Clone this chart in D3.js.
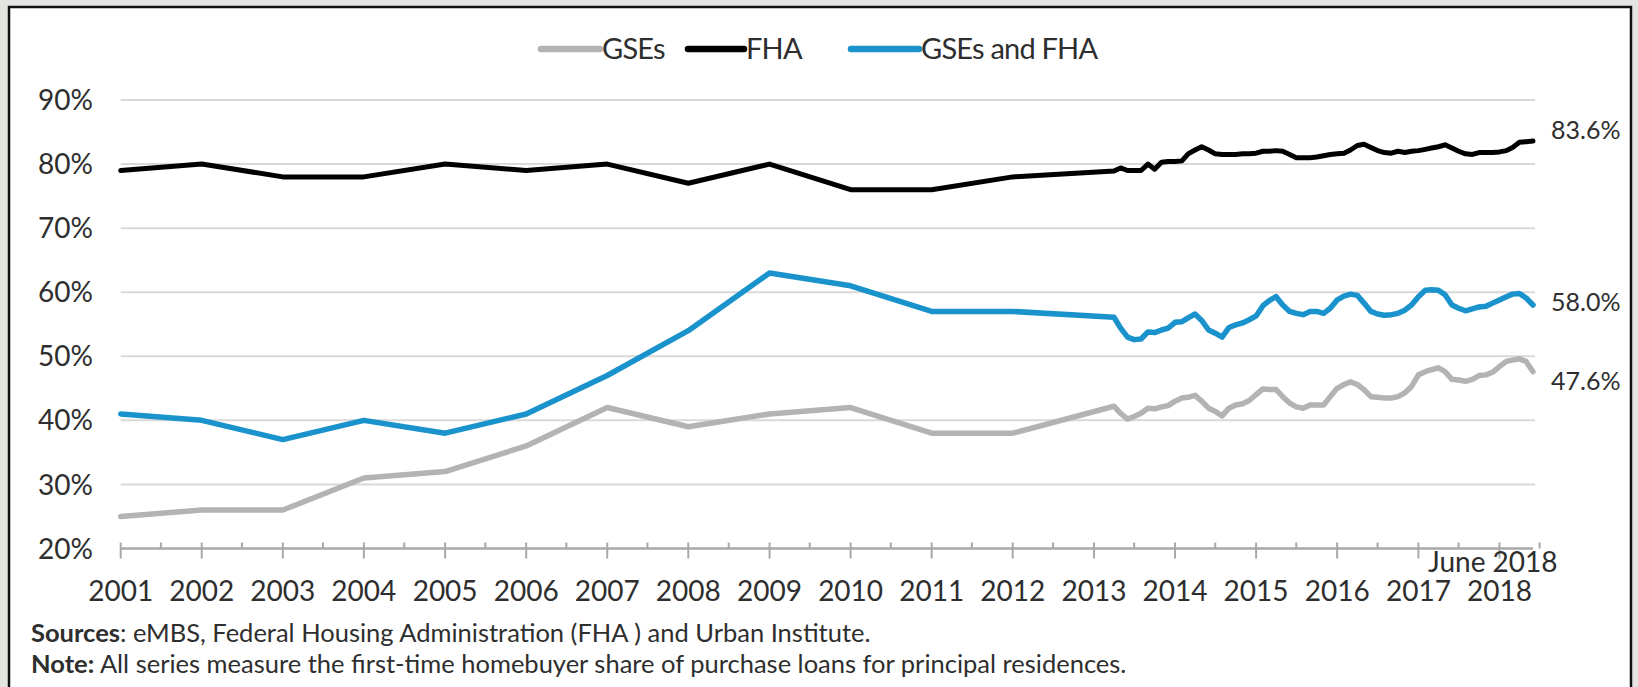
<!DOCTYPE html>
<html>
<head>
<meta charset="utf-8">
<script src="https://cdn.jsdelivr.net/npm/d3@7/dist/d3.min.js"></script>
<style>
  html, body { margin: 0; padding: 0; background: #e4e4e2; }
  svg { display: block; }
  text { font-family: Lato, "Open Sans", sans-serif; fill: #2e2e2e; }
</style>
</head>
<body>
<svg id="chart" width="1638" height="687"></svg>
<script>
// Annual first-time homebuyer shares, 2001-2012 (percent)
const years = [2001, 2002, 2003, 2004, 2005, 2006, 2007, 2008, 2009, 2010, 2011, 2012];
const gseAnnual  = [25, 26, 26, 31, 32, 36, 42, 39, 41, 42, 38, 38];
const fhaAnnual  = [79, 80, 78, 78, 80, 79, 80, 77, 80, 76, 76, 78];
const bothAnnual = [41, 40, 37, 40, 38, 41, 47, 54, 63, 61, 57, 57];

// Monthly shares, April 2013 through June 2018 (percent)
const monthlyStart = [2013, 3]; // year, zero-based month
const gseMonthly = [
  42.2, 41.1, 40.2, 40.6, 41.1, 41.9, 41.8, 42.1, 42.3,
  43.0, 43.5, 43.6, 43.9, 43.0, 41.9, 41.4, 40.7, 41.9, 42.4, 42.6, 43.1,
  44.0, 44.9, 44.8, 44.8, 43.7, 42.7, 42.1, 41.9, 42.4, 42.4, 42.4, 43.7,
  45.0, 45.6, 46.0, 45.6, 44.8, 43.7, 43.6, 43.5, 43.5, 43.7, 44.3, 45.3,
  47.1, 47.6, 47.9, 48.2, 47.6, 46.4, 46.3, 46.1, 46.4, 47.0, 47.1, 47.5,
  48.4, 49.2, 49.4, 49.6, 49.2, 47.6
];
const fhaMonthly = [
  78.9, 79.4, 79.0, 79.0, 79.0, 80.0, 79.2, 80.3, 80.4,
  80.4, 80.5, 81.6, 82.2, 82.7, 82.2, 81.6, 81.5, 81.5, 81.5, 81.6, 81.6,
  81.7, 82.0, 82.0, 82.1, 82.0, 81.5, 81.0, 81.0, 81.0, 81.1, 81.3, 81.5,
  81.6, 81.7, 82.2, 82.9, 83.1, 82.6, 82.1, 81.8, 81.7, 82.0, 81.8, 82.0,
  82.1, 82.3, 82.5, 82.7, 83.0, 82.5, 82.0, 81.6, 81.5, 81.8, 81.8, 81.8,
  81.9, 82.1, 82.6, 83.4, 83.5, 83.6
];
const bothMonthly = [
  56.1, 54.4, 53.0, 52.6, 52.7, 53.8, 53.7, 54.1, 54.4,
  55.3, 55.4, 56.0, 56.6, 55.6, 54.1, 53.6, 53.0, 54.5, 54.9, 55.2, 55.7,
  56.3, 57.9, 58.7, 59.3, 58.0, 57.0, 56.7, 56.5, 57.0, 57.0, 56.7, 57.5,
  58.8, 59.4, 59.7, 59.5, 58.3, 57.0, 56.6, 56.4, 56.5, 56.7, 57.2, 58.0,
  59.3, 60.3, 60.4, 60.3, 59.6, 58.0, 57.5, 57.1, 57.4, 57.7, 57.8, 58.3,
  58.8, 59.3, 59.7, 59.8, 59.1, 58.0
];

const seriesNames = ["GSEs", "FHA", "GSEs and FHA"];
const seriesColors = ["#b3b3b3", "#000000", "#1a93cc"];
const yTicks = [20, 30, 40, 50, 60, 70, 80, 90];
const xTickYears = d3.range(2001, 2019);
const endLabel = "June 2018";
const sourceLabel = "Sources";
const sourceText = ": eMBS, Federal Housing Administration (FHA ) and Urban Institute.";
const noteLabel = "Note:";
const noteText = " All series measure the first-time homebuyer share of purchase loans for principal residences.";

// Combine annual and monthly points into dated series
function buildSeries(annual, monthly) {
  const pts = years.map((y, i) => ({ date: new Date(y, 0, 1), value: annual[i] }));
  monthly.forEach((v, i) => {
    pts.push({ date: new Date(monthlyStart[0], monthlyStart[1] + i, 1), value: v });
  });
  return pts;
}
const series = [
  buildSeries(gseAnnual, gseMonthly),
  buildSeries(fhaAnnual, fhaMonthly),
  buildSeries(bothAnnual, bothMonthly)
];

const svg = d3.select("#chart");

// Panel
svg.append("rect")
  .attr("x", 9).attr("y", 7)
  .attr("width", 1622).attr("height", 690)
  .attr("fill", "#ffffff")
  .attr("stroke", "#111").attr("stroke-width", 2.5);

const x = d3.scaleTime()
  .domain([new Date(2001, 0, 1), new Date(2018, 5, 1)])
  .range([120.7, 1533]);
const y = d3.scaleLinear().domain([20, 90]).range([548.5, 100]);

// Horizontal gridlines
svg.append("g")
  .selectAll("line")
  .data(yTicks.filter(d => d > 20))
  .join("line")
  .attr("x1", x.range()[0]).attr("x2", x.range()[1] + 2)
  .attr("y1", d => y(d)).attr("y2", d => y(d))
  .attr("stroke", "#d9d9d9").attr("stroke-width", 2);

// Y labels
svg.append("g")
  .selectAll("text")
  .data(yTicks)
  .join("text")
  .attr("x", 93).attr("y", d => y(d))
  .attr("dy", "0.36em")
  .attr("text-anchor", "end")
  .attr("font-size", 28)
  .text(d => d + "%");

// X axis with major (year) and minor (mid-year) ticks
const xAxisY = y(20);
const axisG = svg.append("g");
axisG.append("line")
  .attr("x1", x.range()[0]).attr("x2", x.range()[1])
  .attr("y1", xAxisY).attr("y2", xAxisY)
  .attr("stroke", "#a8a8a8").attr("stroke-width", 2.5);
axisG.selectAll("line.major")
  .data(xTickYears)
  .join("line").attr("class", "major")
  .attr("x1", d => x(new Date(d, 0, 1))).attr("x2", d => x(new Date(d, 0, 1)))
  .attr("y1", xAxisY - 6).attr("y2", xAxisY + 10)
  .attr("stroke", "#a8a8a8").attr("stroke-width", 2);
axisG.selectAll("line.minor")
  .data(xTickYears)
  .join("line").attr("class", "minor")
  .attr("x1", d => x(new Date(d, 6, 1))).attr("x2", d => x(new Date(d, 6, 1)))
  .attr("y1", xAxisY - 6).attr("y2", xAxisY)
  .attr("stroke", "#a8a8a8").attr("stroke-width", 2);
axisG.selectAll("text")
  .data(xTickYears)
  .join("text")
  .attr("x", d => x(new Date(d, 0, 1)))
  .attr("y", 601)
  .attr("text-anchor", "middle")
  .attr("font-size", 28)
  .text(d => d);
svg.append("text")
  .attr("x", 1428).attr("y", 572)
  .attr("font-size", 28)
  .text(endLabel);

// Series lines
const line = d3.line()
  .x(d => x(d.date))
  .y(d => y(d.value))
  .curve(d3.curveLinear);
svg.append("g")
  .selectAll("path")
  .data(series)
  .join("path")
  .attr("d", line)
  .attr("fill", "none")
  .attr("stroke", (d, i) => seriesColors[i])
  .attr("stroke-width", (d, i) => i === 1 ? 5 : 5.5)
  .attr("stroke-linejoin", "round")
  .attr("stroke-linecap", "round");

// End-of-series value labels
const labelDy = ["0.75em", "-0.07em", "0.23em"];
svg.append("g")
  .selectAll("text")
  .data(series)
  .join("text")
  .attr("x", 1551)
  .attr("y", d => y(d[d.length - 1].value))
  .attr("dy", (d, i) => labelDy[i])
  .attr("font-size", 25)
  .text(d => d[d.length - 1].value.toFixed(1) + "%");

// Legend
const legend = svg.append("g");
const legendItems = [
  { x0: 541, x1: 600, tx: 602 },
  { x0: 688, x1: 744, tx: 746 },
  { x0: 851, x1: 919, tx: 921 }
];
legendItems.forEach((it, i) => {
  legend.append("line")
    .attr("x1", it.x0).attr("x2", it.x1)
    .attr("y1", 49).attr("y2", 49)
    .attr("stroke", seriesColors[i]).attr("stroke-width", 6.5)
    .attr("stroke-linecap", "round");
  legend.append("text")
    .attr("x", it.tx).attr("y", 49).attr("dy", "0.36em")
    .attr("font-size", 29)
    .attr("letter-spacing", -0.8)
    .text(seriesNames[i]);
});

// Footnotes
const foot = svg.append("g").attr("font-size", 25.5);
const s1 = foot.append("text").attr("x", 31).attr("y", 642);
s1.append("tspan").attr("font-weight", "bold").text(sourceLabel);
s1.append("tspan").text(sourceText);
const s2 = foot.append("text").attr("x", 31).attr("y", 673);
s2.append("tspan").attr("font-weight", "bold").text(noteLabel);
s2.append("tspan").text(noteText);
</script>
</body>
</html>
